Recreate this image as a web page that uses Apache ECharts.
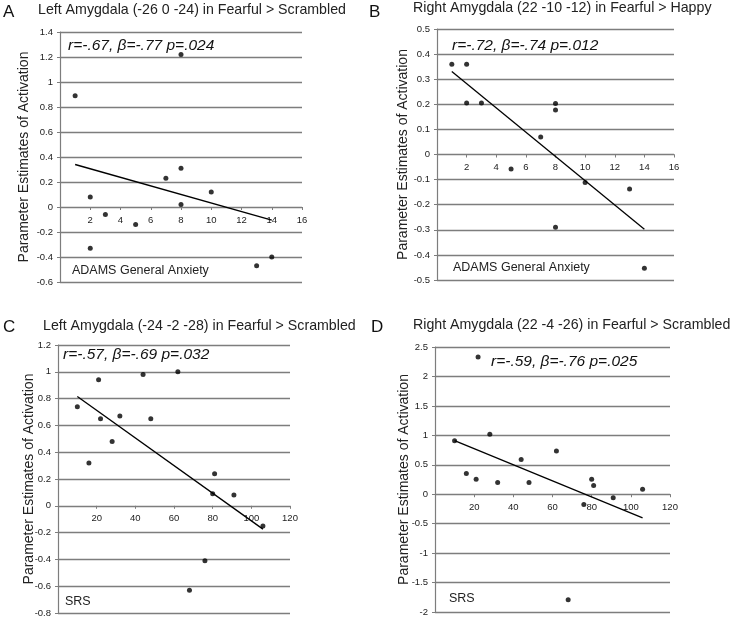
<!DOCTYPE html>
<html>
<head>
<meta charset="utf-8">
<script src="https://cdn.jsdelivr.net/npm/echarts@6/dist/echarts.min.js"></script>
<style>
html,body{margin:0;padding:0;background:#fff;}
#chart{width:732px;height:619px;}
</style>
</head>
<body>
<div id="chart"></div>
<script>
// ---- data ----
const xA = [1, 2, 2, 3, 5, 7, 8, 8, 8, 10, 13, 14];
const yA = [0.89, 0.08, -0.33, -0.06, -0.14, 0.23, 1.22, 0.31, 0.02, 0.12, -0.47, -0.40];
const fitAx = [1, 14];
const fitAy = [0.34, -0.105];

const xB = [1, 2, 2, 3, 5, 7, 8, 8, 8, 10, 13, 14];
const yB = [0.36, 0.36, 0.205, 0.205, -0.058, 0.07, 0.203, 0.177, -0.29, -0.112, -0.137, -0.453];
const fitBx = [1, 14];
const fitBy = [0.331, -0.298];

const xC = [10, 16, 21, 22, 28, 32, 44, 48, 62, 68, 76, 80, 81, 91, 106];
const yC = [0.74, 0.32, 0.94, 0.65, 0.48, 0.67, 0.98, 0.65, 1.0, -0.63, -0.41, 0.09, 0.24, 0.08, -0.15];
const fitCx = [10, 106];
const fitCy = [0.815, -0.174];

const xD = [10, 16, 21, 22, 28, 32, 44, 48, 62, 68, 76, 80, 81, 91, 106];
const yD = [0.91, 0.35, 0.255, 2.33, 1.02, 0.20, 0.59, 0.20, 0.735, -1.79, -0.175, 0.255, 0.147, -0.06, 0.085];
const fitDx = [10, 106];
const fitDy = [0.91, -0.40];

const panelLetters = ['A', 'B', 'C', 'D'];
const panelTitles = [
  'Left Amygdala (-26 0 -24) in Fearful > Scrambled',
  'Right Amygdala (22 -10 -12) in Fearful > Happy',
  'Left Amygdala (-24 -2 -28) in Fearful > Scrambled',
  'Right Amygdala (22 -4 -26) in Fearful > Scrambled'
];
const statTexts = [
  'r=-.67, β=-.77 p=.024',
  'r=-.72, β=-.74 p=.012',
  'r=-.57, β=-.69 p=.032',
  'r=-.59, β=-.76 p=.025'
];
const xNames = ['ADAMS General Anxiety', 'ADAMS General Anxiety', 'SRS', 'SRS'];
const yName = 'Parameter Estimates of Activation';

const xRanges = [[0, 16, 2], [0, 16, 2], [0, 120, 20], [0, 120, 20]];
const yRanges = [[-0.6, 1.4, 0.2], [-0.5, 0.5, 0.1], [-0.8, 1.2, 0.2], [-2, 2.5, 0.5]];

// ---- layout ----
const grids = [
  {left: 60, top: 32, width: 242, height: 250},
  {left: 437, top: 29, width: 237, height: 251},
  {left: 58, top: 345, width: 232, height: 268},
  {left: 435, top: 347, width: 235, height: 265}
];
const nameGaps = [29, 27, 22, 24];
const letterPos = [[3, 13], [369, 13], [3, 328], [371, 328]];
const titlePos = [[38, 11], [413, 9], [43, 327], [413, 326]];
const statPos = [[68, 47], [452, 47], [63, 356], [491, 363]];
const xNamePos = [[72, 271], [453, 268], [65, 602], [449, 599]];

const FONT = '"Liberation Sans", Arial, Helvetica, sans-serif';
const gray = '#7d7d7d';

const xs = [xA, xB, xC, xD];
const ys = [yA, yB, yC, yD];
const fx = [fitAx, fitBx, fitCx, fitDx];
const fy = [fitAy, fitBy, fitCy, fitDy];

const xAxes = [], yAxes = [], series = [], graphics = [];
for (let i = 0; i < 4; i++) {
  const yr = yRanges[i];
  // shift the x axis from the bottom of the grid up to the y=0 line
  const zeroOffset = -grids[i].height * (0 - yr[0]) / (yr[1] - yr[0]);
  xAxes.push({
    type: 'value', gridIndex: i, position: 'bottom', offset: zeroOffset,
    min: xRanges[i][0], max: xRanges[i][1], interval: xRanges[i][2],
    axisLine: {show: true, onZero: false, lineStyle: {color: gray, width: 1.2}},
    axisTick: {show: true, length: 3, lineStyle: {color: gray}},
    axisLabel: {
      fontSize: 9.5, color: '#222', fontFamily: FONT, margin: 8,
      formatter: v => (v === 0 ? '' : String(v))
    },
    splitLine: {show: false}
  });
  yAxes.push({
    type: 'value', gridIndex: i,
    min: yr[0], max: yr[1], interval: yr[2],
    name: yName, nameLocation: 'middle', nameGap: nameGaps[i],
    nameMoveOverlap: false,
    nameTextStyle: {fontSize: 14, color: '#222', fontFamily: FONT},
    axisLine: {show: true, onZero: false, lineStyle: {color: gray, width: 1.2}},
    axisTick: {show: true, length: 3, lineStyle: {color: gray}},
    axisLabel: {fontSize: 9.5, color: '#222', fontFamily: FONT, margin: 7},
    splitLine: {show: true, lineStyle: {color: gray, width: 1.3}}
  });
  series.push({
    type: 'scatter', xAxisIndex: i, yAxisIndex: i,
    symbolSize: 5, itemStyle: {color: '#000'},
    data: xs[i].map((x, k) => [x, ys[i][k]]), z: 5
  });
  series.push({
    type: 'line', xAxisIndex: i, yAxisIndex: i,
    symbol: 'none', lineStyle: {color: '#000', width: 1.3},
    data: fx[i].map((x, k) => [x, fy[i][k]]), z: 4
  });
  graphics.push({
    type: 'text', left: letterPos[i][0], top: letterPos[i][1] - 9,
    style: {text: panelLetters[i], font: '17px ' + FONT, fill: '#111'}
  });
  graphics.push({
    type: 'text', left: titlePos[i][0], top: titlePos[i][1] - 8,
    style: {text: panelTitles[i], font: '14.2px ' + FONT, fill: '#222'}
  });
  graphics.push({
    type: 'text', left: statPos[i][0], top: statPos[i][1] - 9,
    style: {text: statTexts[i], font: 'italic 15.5px ' + FONT, fill: '#111'}
  });
  graphics.push({
    type: 'text', left: xNamePos[i][0], top: xNamePos[i][1] - 7,
    style: {text: xNames[i], font: '12.5px ' + FONT, fill: '#222'}
  });
}

const chart = echarts.init(document.getElementById('chart'), null, {renderer: 'canvas'});
chart.setOption({
  animation: false,
  backgroundColor: '#fff',
  grid: grids,
  xAxis: xAxes,
  yAxis: yAxes,
  series: series,
  graphic: graphics
});
</script>
</body>
</html>
